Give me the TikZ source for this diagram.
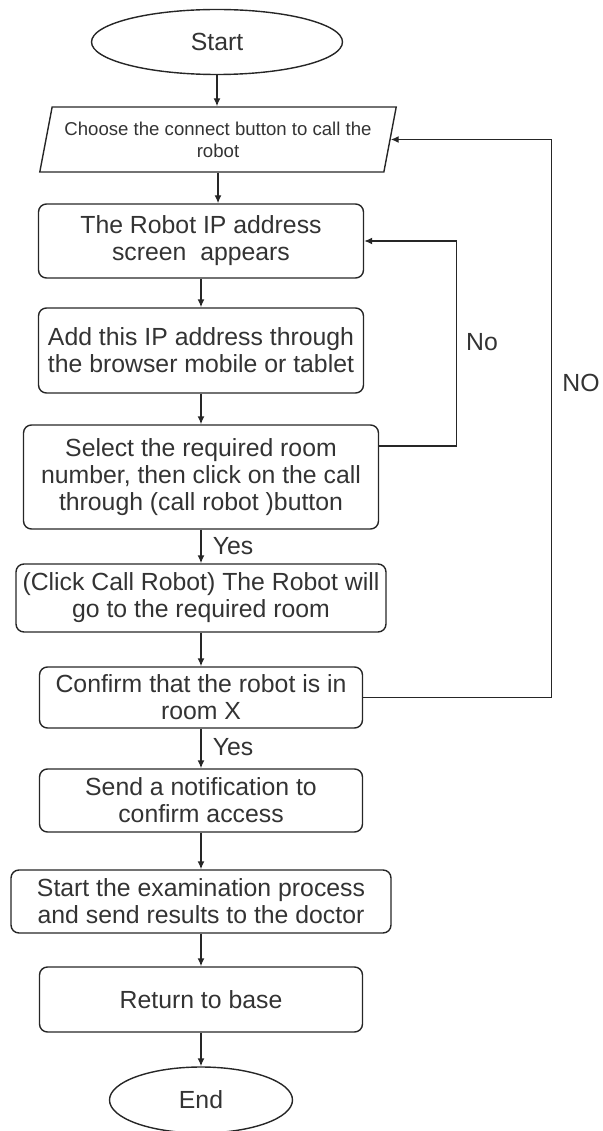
\documentclass[tikz,border=0pt]{standalone}
\usepackage{fontspec}
\setmainfont{Liberation Sans}
\usetikzlibrary{shapes.geometric,arrows.meta}

\begin{document}
\begin{tikzpicture}[x=1pt,y=-1pt,
  every node/.style={text=black!80, font=\fontsize{24.8}{27}\selectfont},
  process/.style={draw=black!85, rectangle, rounded corners=8pt, align=center, inner sep=2pt, line width=1.4pt},
  terminal/.style={draw=black!85, ellipse, inner sep=0pt, line width=1.4pt},
  io/.style={draw=black!85, trapezium, trapezium left angle=73, trapezium right angle=107, trapezium stretches=true, align=center, inner sep=1pt, line width=1.4pt, font=\fontsize{18.6}{22}\selectfont},
  flow/.style={draw=black!85, -{Latex[length=8pt,width=7pt]}, line width=1.4pt}]

\useasboundingbox (0,0) rectangle (602,1131);

\node[terminal, minimum width=251, minimum height=65] (start) at (217,42) {Start};

\node[io, minimum width=357, minimum height=65] (choose) at (218,139.5) {Choose the connect button to call the\\robot};

\node[process, minimum width=325, minimum height=74] (screen) at (201,241) {The Robot IP address\\screen\ \ appears};

\node[process, minimum width=325, minimum height=85] (browser) at (201,350.5) {Add this IP address through\\the browser mobile or tablet};

\node[process, minimum width=355, minimum height=104] (room) at (201,477) {Select the required room\\number, then click on the call\\through (call robot )button};

\node[process, minimum width=370, minimum height=68] (callrobot) at (201,598) {(Click Call Robot) The Robot will\\go to the required room};

\node[process, minimum width=323, minimum height=61] (confirm) at (201,697.5) {Confirm that the robot is in\\room X};

\node[process, minimum width=323, minimum height=63] (notify) at (201,800.5) {Send a notification to\\confirm access};

\node[process, minimum width=380, minimum height=63] (exam) at (201,901.5) {Start the examination process\\and send results to the doctor};

\node[process, minimum width=323, minimum height=65] (base) at (201,999.5) {Return to base};

\node[terminal, minimum width=183, minimum height=66] (end) at (201,1100) {End};

\node (yes1) at (233,546) {Yes};
\node (yes2) at (233,747) {Yes};
\node (no1) at (482,342) {No};
\node (no2) at (581,383) {NO};

\draw[flow] (start.south) -- (start.south |- choose.north);
\draw[flow] (choose.south) -- (choose.south |- screen.north);
\draw[flow] (screen) -- (browser);
\draw[flow] (browser) -- (room);
\draw[flow] (room) -- (callrobot);
\draw[flow] (callrobot) -- (confirm);
\draw[flow] (confirm) -- (notify);
\draw[flow] (notify) -- (exam);
\draw[flow] (exam) -- (base);
\draw[flow] (base) -- (end);

\draw[flow] ([yshift=31pt]room.east) -- ++(77,0) |- (screen.east);
\draw[flow] (confirm.east) -- ++(188,0) |- (choose.east);

\end{tikzpicture}
\end{document}
